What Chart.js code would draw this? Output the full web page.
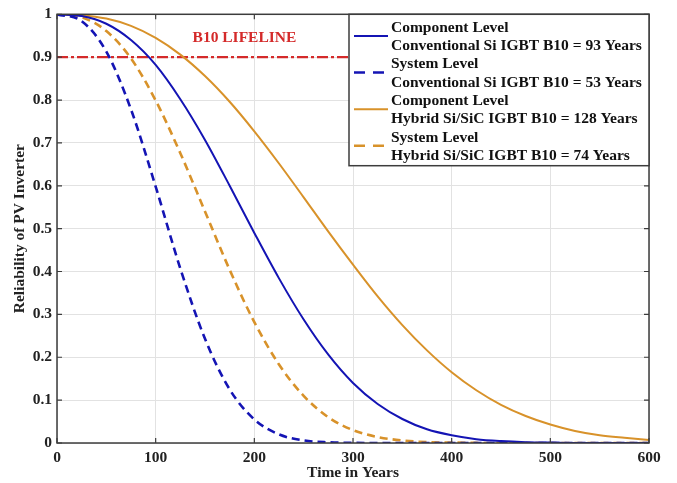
<!DOCTYPE html>
<html lang="en">
<head>
  <meta charset="UTF-8">
  <title>Reliability of PV Inverter</title>
  <script src="https://cdn.jsdelivr.net/npm/chart.js"></script>
  <style>
    body { margin: 0; background: #fff; }
    .wrap { position: relative; width: 677px; height: 483px; }
  </style>
</head>
<body>
  <div class="wrap"><canvas id="relChart"></canvas></div>

  <script>
    // time axis (years) and reliability
    const years = [0, 25, 50, 75, 100, 125, 150, 175, 200, 225, 250, 275, 300,
                   325, 350, 375, 400, 425, 450, 475, 500, 525, 550, 575, 600];
    const compSi  = [1, 0.996, 0.978, 0.940, 0.882, 0.802, 0.707, 0.600, 0.490, 0.384, 0.288, 0.206, 0.140,
                     0.091, 0.056, 0.032, 0.018, 0.009, 0.0045, 0.002, 0.001, 0, 0, 0, 0];
    const sysSi   = [1, 0.984, 0.913, 0.778, 0.598, 0.407, 0.243, 0.125, 0.055, 0.020, 0.006, 0.0016, 0.0003,
                     0, 0, 0, 0, 0, 0, 0, 0, 0, 0, 0, 0];
    const compHyb = [1, 0.998, 0.990, 0.973, 0.945, 0.906, 0.856, 0.796, 0.727, 0.652, 0.573, 0.493, 0.416,
                     0.342, 0.275, 0.216, 0.165, 0.123, 0.089, 0.063, 0.043, 0.028, 0.018, 0.012, 0.007];
    const sysHyb  = [1, 0.993, 0.961, 0.897, 0.799, 0.676, 0.540, 0.404, 0.282, 0.183, 0.110, 0.060, 0.030,
                     0.014, 0.006, 0.002, 0.001, 0.0002, 0, 0, 0, 0, 0, 0, 0];
    const b10Level = 0.9;

    const seriesNames = [
      ['Component Level', 'Conventional Si IGBT B10 = 93 Years'],
      ['System Level', 'Conventional Si IGBT B10 = 53 Years'],
      ['Component Level', 'Hybrid Si/SiC IGBT B10 = 128 Years'],
      ['System Level', 'Hybrid Si/SiC IGBT B10 = 74 Years']
    ];

    const BLUE = '#1414b4';
    const ORANGE = '#d8922a';
    const RED = '#d42a2a';
    const FONT = 'Liberation Serif';
    const FS = 15.5;
    const DASH = [8, 5];

    const toXY = arr => arr.map((v, i) => ({ x: years[i], y: v }));

    function curve(name, arr, color, dashed) {
      return {
        label: name.join(' '),
        data: toXY(arr),
        borderColor: color,
        borderWidth: dashed ? 2.6 : 2,
        borderDash: dashed ? DASH : [],
        pointRadius: 0,
        cubicInterpolationMode: 'monotone',
        fill: false
      };
    }

    // box round the plot with inward ticks
    const boxPlugin = {
      id: 'box',
      afterDatasetsDraw(chart) {
        const { ctx, chartArea: a, scales } = chart;
        ctx.save();
        ctx.strokeStyle = '#3c3c3c';
        ctx.lineWidth = 1.5;
        ctx.strokeRect(a.left, a.top, a.right - a.left, a.bottom - a.top);
        ctx.lineWidth = 1.2;
        ctx.beginPath();
        scales.x.ticks.forEach(t => {
          const px = scales.x.getPixelForValue(t.value);
          ctx.moveTo(px, a.bottom); ctx.lineTo(px, a.bottom - 5);
          ctx.moveTo(px, a.top); ctx.lineTo(px, a.top + 5);
        });
        scales.y.ticks.forEach(t => {
          const py = scales.y.getPixelForValue(t.value);
          ctx.moveTo(a.left, py); ctx.lineTo(a.left + 5, py);
          ctx.moveTo(a.right, py); ctx.lineTo(a.right - 5, py);
        });
        ctx.stroke();

        // B10 label
        ctx.fillStyle = RED;
        ctx.font = 'bold ' + FS + 'px "' + FONT + '"';
        ctx.textAlign = 'center';
        ctx.textBaseline = 'middle';
        ctx.fillText('B10 LIFELINE', scales.x.getPixelForValue(190), scales.y.getPixelForValue(0.945));
        ctx.restore();
      }
    };

    // two-line legend box in the upper right corner
    const legendPlugin = {
      id: 'twoLineLegend',
      afterDraw(chart) {
        const { ctx, chartArea: a } = chart;
        const w = 300, lh = 18.3;
        const x0 = a.right - w, y0 = a.top;
        const h = seriesNames.length * 2 * lh + 5;
        ctx.save();
        ctx.fillStyle = '#fff';
        ctx.fillRect(x0, y0, w, h);
        ctx.strokeStyle = '#3c3c3c';
        ctx.lineWidth = 1.5;
        ctx.strokeRect(x0, y0, w, h);
        ctx.font = 'bold ' + FS + 'px "' + FONT + '"';
        ctx.textAlign = 'left';
        ctx.textBaseline = 'middle';
        seriesNames.forEach((lines, i) => {
          const ds = chart.data.datasets[i];
          const top = y0 + 13.5 + i * 2 * lh;
          const midY = top + lh / 2 - 1;
          ctx.strokeStyle = ds.borderColor;
          ctx.lineWidth = ds.borderWidth;
          ctx.setLineDash(ds.borderDash.length ? [11, 8] : []);
          ctx.beginPath();
          ctx.moveTo(x0 + 5, midY);
          ctx.lineTo(x0 + 39, midY);
          ctx.stroke();
          ctx.setLineDash([]);
          ctx.fillStyle = '#111';
          ctx.fillText(lines[0], x0 + 42, top);
          ctx.fillText(lines[1], x0 + 42, top + lh);
        });
        ctx.restore();
      }
    };

    const ctx = document.getElementById('relChart').getContext('2d');
    new Chart(ctx, {
      type: 'line',
      data: {
        datasets: [
          curve(seriesNames[0], compSi, BLUE, false),
          curve(seriesNames[1], sysSi, BLUE, true),
          curve(seriesNames[2], compHyb, ORANGE, false),
          curve(seriesNames[3], sysHyb, ORANGE, true),
          {
            label: 'B10 LIFELINE',
            data: [{ x: years[0], y: b10Level }, { x: years[years.length - 1], y: b10Level }],
            borderColor: RED,
            borderWidth: 2.4,
            borderDash: [11, 3, 3, 3],
            pointRadius: 0
          }
        ]
      },
      options: {
        responsive: true,
        maintainAspectRatio: false,
        animation: false,
        layout: { padding: { top: 14, right: 28, left: 0, bottom: 0 } },
        plugins: {
          legend: { display: false },
          tooltip: { enabled: false }
        },
        scales: {
          x: {
            type: 'linear',
            min: 0,
            max: 600,
            afterFit: s => { s.height = 40; },
            border: { display: false },
            grid: { color: '#e2e2e2', drawTicks: false },
            ticks: {
              stepSize: 100,
              padding: 6,
              color: '#222',
              font: { family: FONT, size: FS, weight: 'bold' }
            },
            title: {
              display: true,
              text: 'Time in Years',
              color: '#222',
              padding: { top: 0, bottom: 1 },
              font: { family: FONT, size: FS, weight: 'bold' }
            }
          },
          y: {
            min: 0,
            max: 1,
            afterFit: s => { s.width = 57; },
            border: { display: false },
            grid: { color: '#e2e2e2', drawTicks: false },
            ticks: {
              stepSize: 0.1,
              padding: 5,
              color: '#222',
              font: { family: FONT, size: FS, weight: 'bold' },
              callback: v => String(+v.toFixed(1))
            },
            title: {
              display: true,
              text: 'Reliability of PV Inverter',
              color: '#222',
              padding: { top: 11, bottom: 0 },
              font: { family: FONT, size: FS, weight: 'bold' }
            }
          }
        }
      },
      plugins: [boxPlugin, legendPlugin]
    });
  </script>
</body>
</html>
